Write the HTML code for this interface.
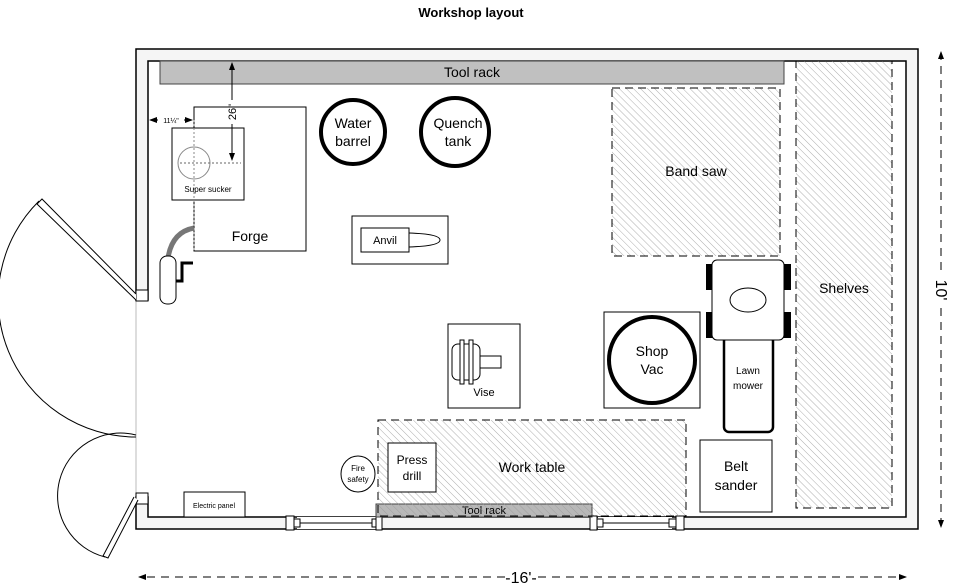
<!DOCTYPE html>
<html><head><meta charset="utf-8"><style>body{margin:0;background:#fff}svg{display:block;font-family:"Liberation Sans",Arial,sans-serif}</style></head><body>
<svg width="954" height="587" viewBox="0 0 954 587" xmlns="http://www.w3.org/2000/svg">
<defs>
<pattern id="h" width="5" height="5" patternUnits="userSpaceOnUse" patternTransform="rotate(-45)">
<line x1="0" y1="0" x2="0" y2="5" stroke="#999" stroke-width="0.8"/></pattern>
<marker id="a" markerWidth="8" markerHeight="8" refX="7" refY="4" orient="auto"><path d="M0,1 L8,4 L0,7z" fill="#000"/></marker>
</defs>
<text x="471" y="17" font-size="13" font-weight="bold" text-anchor="middle">Workshop layout</text>
<!-- walls -->
<path d="M136,300 L136,49 L918,49 L918,529 L136,529 L136,497 L148,497 L148,517 L906,517 L906,61 L148,61 L148,300 Z" fill="#f5f5f5" stroke="#000" stroke-width="1.5"/>
<line x1="136" y1="300" x2="136" y2="497" stroke="#bbb"/>
<rect x="136" y="290" width="12" height="11" fill="#fff" stroke="#000"/>
<rect x="136" y="493" width="12" height="11" fill="#fff" stroke="#000"/>
<!-- windows -->
<rect x="297" y="517" width="81" height="12" fill="#fff"/>
<line x1="297" y1="523" x2="378" y2="523" stroke="#000"/>
<rect x="286" y="516" width="8" height="14" fill="#fff" stroke="#000"/><rect x="294" y="519" width="6" height="8" fill="#fff" stroke="#000"/>
<rect x="372" y="519" width="6" height="8" fill="#fff" stroke="#000"/><rect x="376" y="516" width="6" height="14" fill="#fff" stroke="#000"/>
<rect x="598" y="517" width="74" height="12" fill="#fff"/>
<line x1="598" y1="523" x2="674" y2="523" stroke="#000"/>
<rect x="590" y="516" width="7" height="14" fill="#fff" stroke="#000"/><rect x="597" y="519" width="6" height="8" fill="#fff" stroke="#000"/>
<rect x="669" y="519" width="7" height="8" fill="#fff" stroke="#000"/><rect x="676" y="516" width="8" height="14" fill="#fff" stroke="#000"/>
<!-- doors -->
<path d="M136,300 L37,204 L42,199 L136,294" fill="#fff" stroke="#000"/>
<path d="M39,201 A138,138 0 0 0 136,437" fill="none" stroke="#000"/>
<path d="M134,497 L103,556 L108,558 L138,500" fill="#fff" stroke="#000"/>
<path d="M105,557 A62,62 0 0 1 136,435" fill="none" stroke="#000"/>
<!-- tool racks -->
<rect x="160" y="61" width="624" height="23" fill="#c0c0c0" stroke="#444"/>
<text x="472" y="77" font-size="14" text-anchor="middle">Tool rack</text>
<rect x="376" y="504" width="216" height="13" fill="#b8b8b8" stroke="#444"/>
<text x="484" y="514" font-size="11" text-anchor="middle">Tool rack</text>
<!-- hatched areas -->
<rect x="612" y="88" width="168" height="168" fill="url(#h)" stroke="#000" stroke-dasharray="8,5"/>
<text x="696" y="176" font-size="14" text-anchor="middle">Band saw</text>
<rect x="796" y="61" width="96" height="447" fill="url(#h)" stroke="#000" stroke-dasharray="8,5"/>
<text x="844" y="293" font-size="14" text-anchor="middle">Shelves</text>
<rect x="378" y="420" width="308" height="96" fill="url(#h)" stroke="#000" stroke-dasharray="8,5"/>
<text x="532" y="472" font-size="14" text-anchor="middle">Work table</text>
<!-- forge -->
<rect x="194" y="107" width="112" height="144" fill="#fff" stroke="#000"/>
<text x="250" y="241" font-size="14" text-anchor="middle">Forge</text>
<rect x="172" y="128" width="72" height="72" fill="#fff" stroke="#000"/>
<circle cx="194" cy="163" r="16" fill="none" stroke="#888"/>
<line x1="180" y1="163" x2="241" y2="163" stroke="#666" stroke-dasharray="2,2"/>
<line x1="194" y1="120" x2="194" y2="250" stroke="#888" stroke-dasharray="2,2"/>
<text x="208" y="192" font-size="8" text-anchor="middle">Super sucker</text>
<line x1="232" y1="100" x2="232" y2="63" stroke="#000" marker-end="url(#a)"/>
<line x1="232" y1="124" x2="232" y2="160" stroke="#000" marker-end="url(#a)"/>
<text transform="translate(236,112) rotate(-90)" font-size="11" text-anchor="middle">26"</text>
<line x1="158" y1="120" x2="150" y2="120" stroke="#000" marker-end="url(#a)"/>
<line x1="184" y1="120" x2="192" y2="120" stroke="#000" marker-end="url(#a)"/>
<text x="171" y="123" font-size="7" text-anchor="middle">11¼"</text>
<path d="M194,228 Q172,232 168,258" fill="none" stroke="#777" stroke-width="5"/>
<rect x="160" y="256" width="16" height="48" rx="7" fill="#fff" stroke="#000"/>
<path d="M193,263 L182,263 L182,281 L176,281" fill="none" stroke="#000" stroke-width="3"/>
<!-- barrels -->
<circle cx="353" cy="132" r="32" fill="#fff" stroke="#000" stroke-width="4"/>
<text x="353" y="128" font-size="14" text-anchor="middle">Water</text>
<text x="353" y="146" font-size="14" text-anchor="middle">barrel</text>
<circle cx="455" cy="132" r="34" fill="#fff" stroke="#000" stroke-width="4"/>
<text x="458" y="128" font-size="14" text-anchor="middle">Quench</text>
<text x="458" y="146" font-size="14" text-anchor="middle">tank</text>
<!-- anvil -->
<rect x="352" y="216" width="96" height="48" fill="#fff" stroke="#000"/>
<path d="M409,233 Q440,234 440,240 Q440,246 409,247" fill="none" stroke="#000"/>
<rect x="361" y="228" width="48" height="24" fill="#fff" stroke="#000"/>
<text x="385" y="244" font-size="11" text-anchor="middle">Anvil</text>
<!-- vise -->
<rect x="448" y="324" width="72" height="84" fill="#fff" stroke="#000"/>
<rect x="452" y="344" width="28" height="36" rx="6" fill="#fff" stroke="#000"/>
<rect x="460" y="340" width="4" height="44" fill="#fff" stroke="#000"/>
<rect x="469" y="340" width="4" height="44" fill="#fff" stroke="#000"/>
<rect x="480" y="356" width="21" height="12" fill="#fff" stroke="#000"/>
<text x="484" y="396" font-size="11" text-anchor="middle">Vise</text>
<!-- fire safety / press drill / electric panel -->
<ellipse cx="358" cy="474" rx="17" ry="18" fill="#fff" stroke="#000"/>
<text x="358" y="471" font-size="8" text-anchor="middle">Fire</text>
<text x="358" y="482" font-size="8" text-anchor="middle">safety</text>
<rect x="388" y="443" width="48" height="49" fill="#fff" stroke="#000"/>
<text x="412" y="464" font-size="12" text-anchor="middle">Press</text>
<text x="412" y="480" font-size="12" text-anchor="middle">drill</text>
<rect x="184" y="492" width="61" height="25" fill="#fff" stroke="#000"/>
<text x="214" y="508" font-size="7" text-anchor="middle">Electric panel</text>
<!-- shop vac -->
<rect x="604" y="312" width="96" height="96" fill="#fff" stroke="#000"/>
<circle cx="652" cy="360" r="43" fill="#fff" stroke="#000" stroke-width="4"/>
<text x="652" y="356" font-size="14" text-anchor="middle">Shop</text>
<text x="652" y="374" font-size="14" text-anchor="middle">Vac</text>
<!-- lawn mower -->
<rect x="724" y="336" width="49" height="96" rx="5" fill="#fff" stroke="#000" stroke-width="2.5"/>
<text x="748" y="374" font-size="10" text-anchor="middle">Lawn</text>
<text x="748" y="389" font-size="10" text-anchor="middle">mower</text>
<rect x="706" y="264" width="8" height="26" fill="#000"/><rect x="706" y="312" width="8" height="26" fill="#000"/>
<rect x="783" y="264" width="8" height="26" fill="#000"/><rect x="783" y="312" width="8" height="26" fill="#000"/>
<rect x="712" y="260" width="72" height="80" rx="5" fill="#fff" stroke="#000"/>
<ellipse cx="748" cy="300" rx="18" ry="12" fill="#fff" stroke="#000"/>
<!-- belt sander -->
<rect x="700" y="440" width="72" height="72" fill="#fff" stroke="#000"/>
<text x="736" y="471" font-size="14" text-anchor="middle">Belt</text>
<text x="736" y="490" font-size="14" text-anchor="middle">sander</text>
<!-- dimensions -->
<line x1="941" y1="270" x2="941" y2="52" stroke="#000" stroke-dasharray="8,6" marker-end="url(#a)"/>
<line x1="941" y1="308" x2="941" y2="527" stroke="#000" stroke-dasharray="8,6" marker-end="url(#a)"/>
<text transform="translate(936,290) rotate(90)" font-size="16" text-anchor="middle">10'</text>
<line x1="505" y1="577" x2="139" y2="577" stroke="#000" stroke-dasharray="8,6" marker-end="url(#a)"/>
<line x1="538" y1="577" x2="906" y2="577" stroke="#000" stroke-dasharray="8,6" marker-end="url(#a)"/>
<text x="521" y="583" font-size="16" text-anchor="middle">-16'-</text>
</svg>
</body></html>
